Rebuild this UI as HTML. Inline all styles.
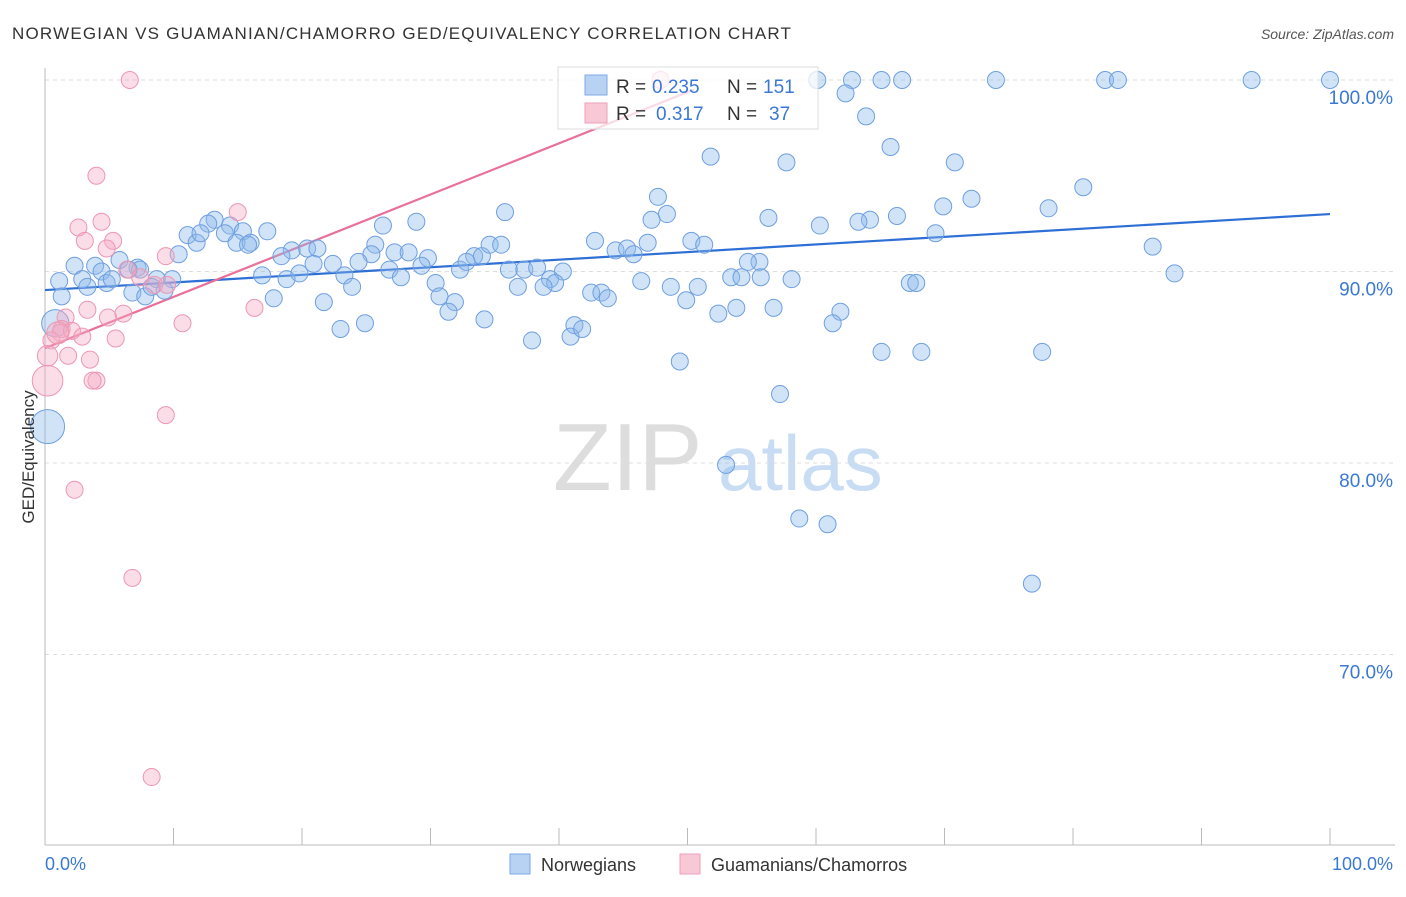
<!DOCTYPE html>
<html><head><meta charset="utf-8"><style>
body{margin:0;background:#fff;font-family:"Liberation Sans",sans-serif;}
svg text{font-family:"Liberation Sans",sans-serif;}
</style></head><body>
<svg id="chart" width="1406" height="892" xmlns="http://www.w3.org/2000/svg">
<text x="12" y="39" font-size="17" fill="#333" letter-spacing="1.2">NORWEGIAN VS GUAMANIAN/CHAMORRO GED/EQUIVALENCY CORRELATION CHART</text>
<text x="1394" y="39" font-size="14" fill="#555" text-anchor="end" font-style="italic">Source: ZipAtlas.com</text>
<g>
<text x="553" y="490" font-size="96" fill="#ddd" font-family="Liberation Serif, serif">ZIP</text>
<text x="718" y="490" font-size="78" fill="#c8dcf3">atlas</text>
</g>
<g id="grid"></g><g id="axes"></g><g id="lines"></g><g id="pts"></g>
<text transform="translate(34,457) rotate(-90)" font-size="17" fill="#333" text-anchor="middle">GED/Equivalency</text>
<g>
<rect x="558" y="67" width="260" height="62" fill="rgba(255,255,255,0.75)" stroke="#ddd"/>
<rect x="585" y="75" width="22" height="20" fill="#b7d2f3" stroke="#7eaae6"/>
<rect x="585" y="103" width="22" height="20" fill="#f9c8d6" stroke="#ee9fb8"/>
<text x="616" y="93" font-size="19" fill="#333">R =</text>
<text x="652" y="93" font-size="19" fill="#3a78d4">0.235</text>
<text x="727" y="93" font-size="19" fill="#333">N =</text>
<text x="763" y="93" font-size="19" fill="#3a78d4">151</text>
<text x="616" y="120" font-size="19" fill="#333">R =</text>
<text x="656" y="120" font-size="19" fill="#3a78d4">0.317</text>
<text x="727" y="120" font-size="19" fill="#333">N =</text>
<text x="769" y="120" font-size="19" fill="#3a78d4">37</text>
</g>
<g>
<rect x="510" y="854" width="20" height="20" fill="#b7d2f3" stroke="#7eaae6"/>
<text x="541" y="871" font-size="18" fill="#333">Norwegians</text>
<rect x="680" y="854" width="20" height="20" fill="#f9c8d6" stroke="#ee9fb8"/>
<text x="711" y="871" font-size="18" fill="#333">Guamanians/Chamorros</text>
</g>
</svg>
<script>
const blueX=[60.1,62.8,65.1,66.7,74.0,82.5,83.5,93.9,100,62.3,63.9,65.8,51.8,57.7,70.8,47.7,80.8,72.1,69.9,78.1,35.8,48.4,56.3,47.2,60.3,64.2,63.3,66.3,69.3,42.8,46.9,50.3,51.3,44.4,45.3,45.8,86.2,87.9,26.3,28.9,13.2,12.7,14.4,15.4,17.3,11.1,11.8,12.1,14.0,14.9,16.0,15.8,25.7,10.4,19.2,20.4,21.2,18.4,25.4,27.2,28.3,29.8,33.4,34.0,34.6,35.5,24.4,20.9,22.4,5.8,2.3,3.9,7.2,7.4,6.5,4.4,16.9,18.8,19.8,26.8,29.3,27.7,23.3,23.9,30.4,32.3,32.8,36.1,37.3,38.3,40.3,39.3,39.7,36.8,38.8,1.1,2.9,3.3,4.8,5.2,8.7,9.9,9.3,6.8,7.8,8.3,1.3,17.8,21.7,30.7,31.9,31.4,34.2,42.5,43.3,43.8,46.4,48.7,50.8,49.9,52.4,53.8,53.4,54.2,55.6,55.7,54.7,58.1,56.7,67.3,67.8,61.9,61.3,65.1,68.2,77.6,49.4,37.9,23.0,24.9,41.2,40.9,41.8,57.2,53.0,58.7,60.9,76.8,0.8,0.2];
const blueY=[100,100,100,100,100,100,100,100,100,99.3,98.1,96.5,96.0,95.7,95.7,93.9,94.4,93.8,93.4,93.3,93.1,93.0,92.8,92.7,92.4,92.7,92.6,92.9,92.0,91.6,91.5,91.6,91.4,91.1,91.2,90.9,91.3,89.9,92.4,92.6,92.7,92.5,92.4,92.1,92.1,91.9,91.5,92.0,92.0,91.5,91.5,91.4,91.4,90.9,91.1,91.2,91.2,90.8,90.9,91.0,91.0,90.7,90.8,90.8,91.4,91.4,90.5,90.4,90.4,90.6,90.3,90.3,90.2,90.1,90.1,90.0,89.8,89.6,89.9,90.1,90.3,89.7,89.8,89.2,89.4,90.1,90.5,90.1,90.1,90.2,90.0,89.6,89.4,89.2,89.2,89.5,89.6,89.2,89.4,89.6,89.6,89.6,89.0,88.9,88.7,89.2,88.7,88.6,88.4,88.7,88.4,87.9,87.5,88.9,88.9,88.6,89.5,89.2,89.2,88.5,87.8,88.1,89.7,89.7,90.5,89.7,90.5,89.6,88.1,89.4,89.4,87.9,87.3,85.8,85.8,85.8,85.3,86.4,87.0,87.3,87.2,86.6,87.0,83.6,79.9,77.1,76.8,73.7,87.3,81.9];
const blueSize=[];blueX.forEach((v,i)=>blueSize.push(i==blueX.length-2?1.6:(i==blueX.length-1?2:1)));
const pinkX=[6.6,47.9,4.0,15.0,4.4,2.6,3.1,5.3,4.8,9.4,6.4,7.4,8.5,9.5,16.3,3.3,6.1,4.9,10.7,1.6,1.3,1.2,2.1,2.9,5.5,0.5,1.8,3.5,0.2,4.0,3.7,0.2,9.4,2.3,6.8,8.3,1.0];
const pinkY=[100,100,95.0,93.1,92.6,92.3,91.6,91.6,91.2,90.8,90.1,89.7,89.3,89.3,88.1,88.0,87.8,87.6,87.3,87.6,87.0,86.8,86.9,86.6,86.5,86.4,85.6,85.4,85.6,84.3,84.3,84.3,82.5,78.6,74.0,63.6,86.8];
const pinkSize=[1,1,1,1,1,1,1,1,1,1,1,1,1,1,1,1,1,1,1,1,1,1,1,1,1,1,1,1,1.2,1,1,1.8,1,1,1,1,1.3];
const blueLine=[[0,89.03],[100,93.0]];
const pinkLine=[[0,86.0],[50.5,99.5]];
const yTicks=[100,90,80,70];
const yTickLabels=["100.0%","90.0%","80.0%","70.0%"];
const xTicks=[0,10,20,30,40,50,60,70,80,90,100];
const X=v=>45+v*12.85, Y=v=>80+(100-v)*19.15;
const NS="http://www.w3.org/2000/svg";
function mk(p,t,a){const e=document.createElementNS(NS,t);for(const k in a)e.setAttribute(k,a[k]);p.appendChild(e);return e;}
const grid=document.getElementById('grid'),axes=document.getElementById('axes'),lines=document.getElementById('lines'),pts=document.getElementById('pts');
yTicks.forEach((t,i)=>{
 const g=mk(grid,'line',{x1:45,x2:1395,y1:Y(t),y2:Y(t),stroke:'#ddd','stroke-dasharray':'4,4'});
 
 
 const l=mk(axes,'text',{x:1393,y:Y(t)+24,'font-size':19,fill:'#3a78d4','text-anchor':'end'});l.textContent=yTickLabels[i];
 
 
});
const ya=mk(axes,'line',{x1:45,x2:45,y1:68,y2:845,stroke:'#bbb'});


const xa=mk(axes,'line',{x1:45,x2:1395,y1:845,y2:845,stroke:'#bbb'});


xTicks.forEach(t=>{const k=mk(axes,'line',{x1:X(t),x2:X(t),y1:828,y2:845,stroke:'#bbb'});
 
 });
const xl0=mk(axes,'text',{x:45,y:870,'font-size':18,fill:'#3a78d4'});xl0.textContent='0.0%';


const xl1=mk(axes,'text',{x:1393,y:870,'font-size':18,fill:'#3a78d4','text-anchor':'end'});xl1.textContent='100.0%';


function pt(x,y,s,fill,stroke,name){const c=mk(pts,'circle',{cx:X(x),cy:Y(y),r:8.5*s,fill:fill,stroke:stroke,'stroke-width':1});
 
 }
blueX.forEach((x,i)=>pt(x,blueY[i],blueSize[i],'rgba(140,185,235,0.4)','#6f9fe0','norwegian-point'));
pinkX.forEach((x,i)=>pt(x,pinkY[i],pinkSize[i],'rgba(245,170,195,0.4)','#ec97b2','guamanian-point'));
const bl=mk(lines,'line',{x1:X(blueLine[0][0]),y1:Y(blueLine[0][1]),x2:X(blueLine[1][0]),y2:Y(blueLine[1][1]),stroke:'#2e6fd6','stroke-width':2.2});


const pl=mk(lines,'line',{x1:X(pinkLine[0][0]),y1:Y(pinkLine[0][1]),x2:X(pinkLine[1][0]),y2:Y(pinkLine[1][1]),stroke:'#e8709a','stroke-width':2.2});


</script>
</body></html>
